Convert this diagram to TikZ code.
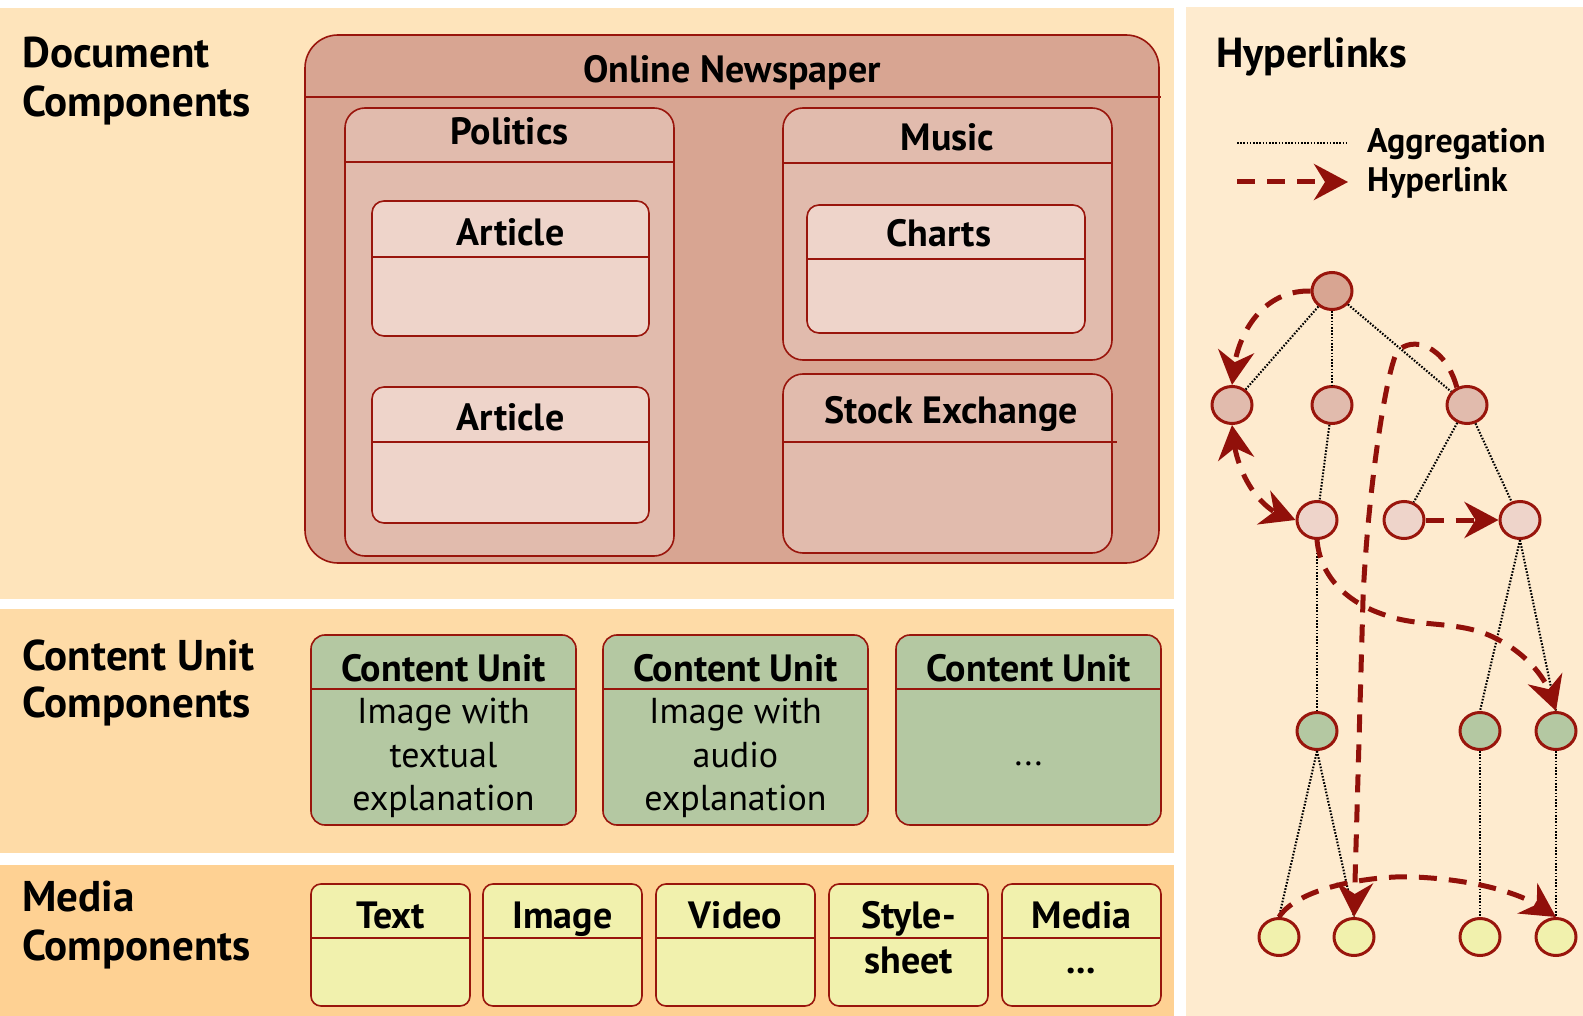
\documentclass[tikz,border=0pt]{standalone}
\usepackage{fontspec}
\setmainfont{PT Sans}
\usetikzlibrary{shapes.geometric,arrows.meta,bending}
\definecolor{bandA}{RGB}{254,228,187}
\definecolor{bandB}{RGB}{254,219,167}
\definecolor{bandC}{RGB}{254,209,147}
\definecolor{bandR}{RGB}{254,235,207}
\definecolor{bord}{RGB}{153,21,12}
\definecolor{hlc}{RGB}{145,16,10}
\definecolor{cNews}{RGB}{216,165,146}
\definecolor{cMid}{RGB}{225,187,173}
\definecolor{cLight}{RGB}{238,212,202}
\definecolor{cGreen}{RGB}{180,200,162}
\definecolor{cYellow}{RGB}{241,241,173}
\newcommand\ubox[8]{%
  \node[ubx, fill=#7, rounded corners=#8, minimum width={#4-#2}, minimum height={#5-#3}, anchor=north west] (#1) at (#2,#3) {};
  \draw[bl] (#2,#6) -- (#4,#6);
}
\begin{document}
\begin{tikzpicture}[x=1pt,y=-1pt,
  ubx/.style={draw=bord, line width=1.6pt, inner sep=0pt, outer sep=0pt},
  bl/.style={draw=bord, line width=1.6pt},
  ttl/.style={font=\fontsize{38}{45}\selectfont\bfseries, inner sep=0pt, anchor=base},
  body/.style={font=\fontsize{36}{43}\selectfont, inner sep=0pt, anchor=base},
  sect/.style={font=\fontsize{43}{50}\selectfont\bfseries, inner sep=0pt, anchor=base west},
  leg/.style={font=\fontsize{34}{40}\selectfont\bfseries, inner sep=0pt, anchor=base west},
  gn/.style={ellipse, draw=bord, line width=3pt, minimum width=40pt, minimum height=37pt, inner sep=0pt},
  agg/.style={draw=black, line width=2.1pt, dash pattern=on 1.6pt off 1.6pt},
  hl/.style={draw=hlc, line width=5pt, dash pattern=on 18pt off 12pt},
  >={Stealth[length=34pt,width=36pt,inset=11pt,flex]}
]
\useasboundingbox (0,0) rectangle (1583,1016);
\fill[white] (0,0) rectangle (1583,1016);
\fill[bandA] (0,8) rectangle (1174,599);
\fill[bandB] (0,609) rectangle (1174,853);
\fill[bandC] (0,865) rectangle (1174,1016);
\fill[bandR] (1186,7) rectangle (1583,1016);

% section labels
\node[sect] (s1a) at (22,68) {Document};
\node[sect] (s1b) at (22,117) {Components};
\node[sect] (s2a) at (22,670) {Content Unit};
\node[sect] (s2b) at (22,717) {Components};
\node[sect] (s3a) at (22,911) {Media};
\node[sect] (s3b) at (22,960) {Components};

% document boxes
\ubox{news}{305}{35}{1159}{563}{97}{cNews}{33pt}
\draw[bl] (1159,97) -- (1161,97);
\node[ttl] (tnews) at (732,83) {Online Newspaper};
\ubox{pol}{345}{108}{674}{556}{162}{cMid}{20pt}
\node[ttl] (tpol) at (509.5,145) {Politics};
\ubox{art1}{372}{201}{649}{336}{257}{cLight}{12pt}
\node[ttl] (tart1) at (510.5,246) {Article};
\ubox{art2}{372}{387}{649}{523}{442}{cLight}{12pt}
\node[ttl] (tart2) at (510.5,430) {Article};
\ubox{mus}{783}{108}{1112}{360}{163}{cMid}{20pt}
\node[ttl] (tmus) at (947.5,151) {Music};
\ubox{cha}{807}{205}{1085}{333}{259}{cLight}{12pt}
\node[ttl] (tcha) at (939,247) {Charts};
\ubox{stk}{783}{374}{1112}{553}{442}{cMid}{20pt}
\draw[bl] (1112,442) -- (1117,442);
\node[ttl] (tstk) at (951,423) {Stock Exchange};

% content units
\ubox{cu1}{311}{635}{576}{825}{689}{cGreen}{14pt}
\ubox{cu2}{603}{635}{868}{825}{689}{cGreen}{14pt}
\ubox{cu3}{896}{635}{1161}{825}{689}{cGreen}{14pt}
\node[ttl] (tcu1) at (443.5,681) {Content Unit};
\node[ttl] (tcu2) at (735.5,681) {Content Unit};
\node[ttl] (tcu3) at (1028.5,681) {Content Unit};
\node[body] (b1a) at (443.5,723) {Image with};
\node[body] (b1b) at (443.5,767) {textual};
\node[body] (b1c) at (443.5,810) {explanation};
\node[body] (b2a) at (735.5,723) {Image with};
\node[body] (b2b) at (735.5,767) {audio};
\node[body] (b2c) at (735.5,810) {explanation};
\node[body] (b3a) at (1028.5,765) {...};

% media
\ubox{m1}{311}{884}{470}{1006}{938}{cYellow}{10pt}
\ubox{m2}{483}{884}{642}{1006}{938}{cYellow}{10pt}
\ubox{m3}{656}{884}{815}{1006}{938}{cYellow}{10pt}
\ubox{m4}{829}{884}{988}{1006}{938}{cYellow}{10pt}
\ubox{m5}{1002}{884}{1161}{1006}{938}{cYellow}{10pt}
\node[ttl] (tm1) at (390.5,928) {Text};
\node[ttl] (tm2) at (562.5,928) {Image};
\node[ttl] (tm3) at (735.5,928) {Video};
\node[ttl] (tm4) at (908.5,928) {Style-};
\node[ttl] (tm4b) at (908.5,973) {sheet};
\node[ttl] (tm5) at (1081.5,928) {Media};
\node[ttl] (tm5b) at (1081.5,973) {...};

% right panel
\node[font=\fontsize{42}{48}\selectfont\bfseries, inner sep=0pt, anchor=base west] (thyp) at (1216,68) {Hyperlinks};
\coordinate (la1) at (1237,143);
\coordinate (la2) at (1348,143);
\coordinate (lb1) at (1237,182);
\coordinate (lb2) at (1348,182);
\draw[agg] (la1) -- (la2);
\draw[hl,->] (lb1) -- (lb2);
\node[leg] (tagg) at (1367,153) {Aggregation};
\node[leg] (thl) at (1367,192) {Hyperlink};

% tree nodes
\node[gn, fill=cNews] (root) at (1332,291) {};
\node[gn, fill=cMid] (l1a) at (1232,405) {};
\node[gn, fill=cMid] (l1b) at (1332,405) {};
\node[gn, fill=cMid] (l1c) at (1467,405) {};
\node[gn, fill=cLight] (l2a) at (1317,520) {};
\node[gn, fill=cLight] (l2b) at (1404,520) {};
\node[gn, fill=cLight] (l2c) at (1520,520) {};
\node[gn, fill=cGreen] (g1) at (1317,731) {};
\node[gn, fill=cGreen] (g2) at (1480,731) {};
\node[gn, fill=cGreen] (g3) at (1556,731) {};
\node[gn, fill=cYellow] (y1) at (1279,937) {};
\node[gn, fill=cYellow] (y2) at (1354,937) {};
\node[gn, fill=cYellow] (y3) at (1480,937) {};
\node[gn, fill=cYellow] (y4) at (1556,937) {};

% aggregation
\draw[agg] (root) -- (l1a);
\draw[agg] (root) -- (l1b);
\draw[agg] (root) -- (l1c);
\draw[agg] (l1b) -- (l2a);
\draw[agg] (l1c) -- (l2b);
\draw[agg] (l1c) -- (l2c);
\draw[agg] (l2a) -- (g1);
\draw[agg] (l2c.south) -- (g2.north);
\draw[agg] (l2c.south) -- (g3.north);
\draw[agg] (g1.south) -- (y1.north);
\draw[agg] (g1.south) -- (y2.north);
\draw[agg] (g2) -- (y3);
\draw[agg] (g3) -- (y4);

% hyperlinks
\draw[hl,->] (root.west) .. controls (1262,290) and (1234,335) .. (l1a.north);
\draw[hl,<->] (l1a.south) .. controls (1234,475) and (1262,515) .. (l2a.west);
\draw[hl,->] (l2b.east) -- (l2c.west);
\draw[hl,->] (l2a.south) .. controls (1320,575) and (1345,602) .. (1385,615)
   .. controls (1420,628) and (1460,620) .. (1495,638)
   .. controls (1530,655) and (1552,685) .. (g3.north);
\draw[hl,->] (l1c.120) .. controls (1445,345) and (1412,335) .. (1397,352)
   .. controls (1385,375) and (1367,500) .. (1363,600) -- (y2.north);
\draw[hl,->] (y1.north) .. controls (1300,885) and (1380,875) .. (1415,877)
   .. controls (1480,880) and (1530,895) .. (y4.north);
\end{tikzpicture}
\end{document}
